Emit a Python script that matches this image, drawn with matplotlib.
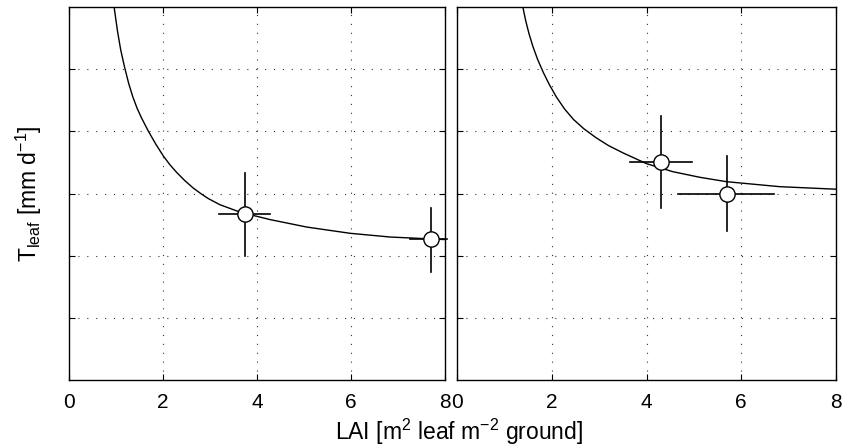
import matplotlib
matplotlib.use('Agg')
import matplotlib.pyplot as plt

plt.rcParams['font.family'] = ['Liberation Sans', 'DejaVu Sans']
plt.rcParams['mathtext.fontset'] = 'custom'
plt.rcParams['mathtext.rm'] = 'Liberation Sans'
plt.rcParams['mathtext.it'] = 'Liberation Sans'

# fitted curves
lai_left = [0.96, 1.03, 1.10, 1.18, 1.27, 1.36, 1.45, 1.54, 1.69, 1.85, 2.01, 2.15,
            2.29, 2.46, 2.64, 2.82, 2.96, 3.21, 3.64, 4.28, 5.06, 5.98, 6.83, 7.96, 8.0]
t_left = [6.00, 5.62, 5.31, 5.04, 4.77, 4.55, 4.37, 4.22, 4.00, 3.79, 3.60, 3.46,
          3.34, 3.21, 3.09, 2.99, 2.92, 2.82, 2.70, 2.58, 2.46, 2.36, 2.30, 2.26, 2.26]
lai_right = [1.39, 1.45, 1.52, 1.60, 1.70, 1.82, 1.95, 2.10, 2.27, 2.46, 2.68, 2.93,
             3.20, 3.50, 4.00, 4.56, 5.13, 5.69, 6.81, 7.97, 8.0]
t_right = [6.00, 5.78, 5.57, 5.37, 5.16, 4.95, 4.75, 4.55, 4.36, 4.19, 4.04, 3.90,
           3.77, 3.655, 3.48, 3.35, 3.26, 3.19, 3.11, 3.07, 3.07]

# observations with error bars (lo/hi)
obs_left_x = [3.74, 7.70]
obs_left_y = [2.67, 2.27]
obs_left_xlo = [3.19, 7.26]
obs_left_xhi = [4.28, 8.05]
obs_left_ylo = [2.00, 1.74]
obs_left_yhi = [3.33, 2.77]

obs_right_x = [4.30, 5.70]
obs_right_y = [3.50, 3.00]
obs_right_xlo = [3.65, 4.66]
obs_right_xhi = [4.96, 6.69]
obs_right_ylo = [2.76, 2.40]
obs_right_yhi = [4.24, 3.61]

xticks = [0, 2, 4, 6, 8]
yticks = [1, 2, 3, 4, 5]

fig = plt.figure(figsize=(8.43, 4.46), dpi=100)
ax1 = fig.add_axes([69 / 843, 66 / 446, 376 / 843, 373 / 446])
ax2 = fig.add_axes([457 / 843, 66 / 446, 379 / 843, 373 / 446])


def panel(ax, cx, cy, ox, oy, xlo, xhi, ylo, yhi):
    ax.plot(cx, cy, color='black', lw=1.0, zorder=3)
    for x, y, a, b, c, d in zip(ox, oy, xlo, xhi, ylo, yhi):
        ax.plot([a, b], [y, y], color='black', lw=1.2, zorder=4, clip_on=False)
        ax.plot([x, x], [c, d], color='black', lw=1.2, zorder=4, clip_on=False)
    ax.plot(ox, oy, 'o', ms=11, mfc='white', mec='black', mew=1.0, zorder=5, clip_on=False)
    ax.set_xlim(0, 8)
    ax.set_ylim(0, 6)
    ax.set_xticks(xticks)
    ax.set_yticks(yticks)
    ax.set_yticklabels([])
    ax.grid(True, color='#333333', linestyle=(0, (1, 7)), lw=0.8)
    ax.tick_params(direction='in', top=True, right=True, length=4,
                   labelsize=15, pad=9)
    for s in ax.spines.values():
        s.set_linewidth(1.0)


panel(ax1, lai_left, t_left, obs_left_x, obs_left_y, obs_left_xlo, obs_left_xhi,
      obs_left_ylo, obs_left_yhi)
panel(ax2, lai_right, t_right, obs_right_x, obs_right_y, obs_right_xlo, obs_right_xhi,
      obs_right_ylo, obs_right_yhi)

ax1.set_ylabel(r'T$_{\mathrm{leaf}}$ [mm d$^{-1}$]', fontsize=16.5, labelpad=9)
fig.text(459 / 843, 14 / 446, r'LAI [m$^2$ leaf m$^{-2}$ ground]', fontsize=16.5,
         ha='center', va='center')

fig.savefig('out.png', dpi=100)
